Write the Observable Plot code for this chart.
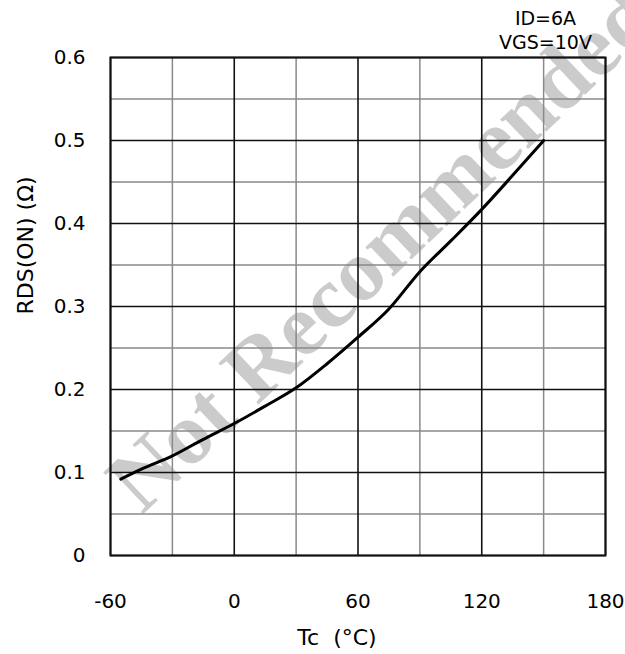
<!DOCTYPE html>
<html>
<head>
<meta charset="utf-8">
<script src="https://cdn.jsdelivr.net/npm/d3@7"></script>
<script src="https://cdn.jsdelivr.net/npm/@observablehq/plot@0.6"></script>
<style>
  html, body { margin: 0; padding: 0; background: #fff; }
  svg { display: block; }
</style>
</head>
<body>
<div id="chart"></div>
<script>
// Data
const tempC = [-55, -45, -30, -15, 0, 15, 30, 45, 60, 75, 90, 105, 120, 135, 150];
const rdsOn = [0.092, 0.104, 0.120, 0.140, 0.159, 0.180, 0.202, 0.231, 0.263, 0.297, 0.342, 0.379, 0.417, 0.458, 0.500];

const xTicks = [-60, 0, 60, 120, 180];
const xMinor = [-30, 30, 90, 150];
const yTicks = [0, 0.1, 0.2, 0.3, 0.4, 0.5, 0.6];
const yTickLabels = ["0", "0.1", "0.2", "0.3", "0.4", "0.5", "0.6"];
const yMinor = [0.05, 0.15, 0.25, 0.35, 0.45, 0.55];

const xTitle = "Tc\u00a0\u00a0(°C)";
const yTitle = "RDS(ON) (Ω)";
const conditionLine1 = "ID=6A";
const conditionLine2 = "VGS=10V";
const watermark = "Not Recommended";

const curve = tempC.map((t, i) => ({t, r: rdsOn[i]}));

const font = "DejaVu Sans, Liberation Sans, Arial, sans-serif";

const chart = Plot.plot({
  width: 625,
  height: 654,
  marginLeft: 110,
  marginRight: 20,
  marginTop: 57,
  marginBottom: 99,
  style: {fontFamily: font, fontSize: "20px", color: "#000", background: "#fff"},
  x: {domain: [-60, 180]},
  y: {domain: [0, 0.6]},
  marks: [
    // watermark
    Plot.text([watermark], {
      frameAnchor: "middle", text: d => d, rotate: -43.5,
      dx: 24, dy: -58, fontSize: 88, fontWeight: "bold",
      fontFamily: "Liberation Serif, Times New Roman, serif",
      fill: "#cbcbcb", lineAnchor: "middle", textAnchor: "middle"
    }),
    // grid
    Plot.ruleX(xMinor, {stroke: "#8a8a8a", strokeWidth: 1.5}),
    Plot.ruleY(yMinor, {stroke: "#8a8a8a", strokeWidth: 1.5}),
    Plot.ruleX(xTicks, {stroke: "#111", strokeWidth: 1.6}),
    Plot.ruleY(yTicks, {stroke: "#111", strokeWidth: 1.6}),
    Plot.frame({stroke: "#111", strokeWidth: 2}),
    // axes
    Plot.axisX(xTicks, {tickSize: 0, tickPadding: 38, fontSize: 20, label: null,
      tickFormat: d => String(d)}),
    Plot.axisY(yTicks, {tickSize: 0, tickPadding: 25, fontSize: 20, label: null,
      tickFormat: d => yTickLabels[yTicks.indexOf(d)]}),
    // titles
    Plot.text([xTitle], {frameAnchor: "bottom", text: d => d, dx: -21, dy: 82,
      fontSize: 22, lineAnchor: "middle"}),
    Plot.text([yTitle], {frameAnchor: "left", text: d => d, rotate: -90, dx: -85, dy: 8,
      fontSize: 22, lineAnchor: "middle", letterSpacing: "0.6px"}),
    // conditions
    Plot.text([conditionLine1], {frameAnchor: "top-right", text: d => d, dx: -60, dy: -39,
      lineAnchor: "middle", textAnchor: "middle", fontSize: 19}),
    Plot.text([conditionLine2], {frameAnchor: "top-right", text: d => d, dx: -60, dy: -15,
      lineAnchor: "middle", textAnchor: "middle", fontSize: 19}),
    // curve
    Plot.line(curve, {x: "t", y: "r", curve: "monotone-x", stroke: "#000", strokeWidth: 3})
  ]
});

document.getElementById("chart").append(chart);
</script>
</body>
</html>
